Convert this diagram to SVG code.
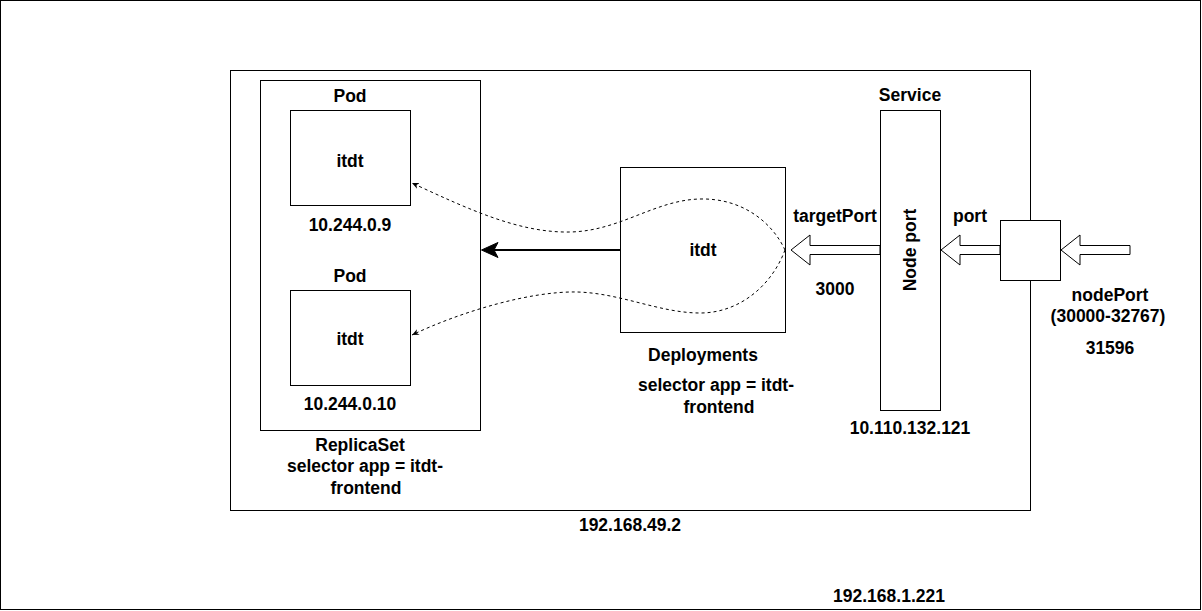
<svg xmlns="http://www.w3.org/2000/svg" width="1202" height="611" viewBox="0 0 1202 611">
<style>
  text { font-family: "Liberation Sans", Arial, Helvetica, sans-serif; font-weight: bold; font-size: 17.5px; fill: #000; text-anchor: middle; }
  .box { fill: #fff; stroke: #000; stroke-width: 1; }
  .frame { fill: none; stroke: #000; stroke-width: 1; }
  .dash { fill: none; stroke: #000; stroke-width: 1; stroke-dasharray: 3 3; }
  .block { fill: #fff; stroke: #000; stroke-width: 1; }
</style>
<defs>
  <marker id="sm" viewBox="0 0 10 10" refX="10" refY="5" markerWidth="7" markerHeight="7" orient="auto" markerUnits="userSpaceOnUse">
    <path d="M0,0.5 L10,5 L0,9.5 L3,5 Z" fill="#000"/>
  </marker>
</defs>
<rect width="1202" height="611" fill="#fff"/>

<g id="host">
  <rect class="frame" x="0.5" y="0.5" width="1200" height="609"/>
  <text x="889" y="602">192.168.1.221</text>
</g>

<g id="cluster">
  <rect class="frame" x="230.5" y="70.5" width="800" height="440"/>
  <text x="630" y="531">192.168.49.2</text>
</g>

<g id="replicaset">
  <rect class="box" x="260.5" y="80.5" width="220" height="350"/>
  <text x="360" y="451">ReplicaSet</text>
  <text x="365" y="472">selector app = itdt-</text>
  <text x="366" y="494">frontend</text>
</g>

<g id="pod1">
  <text x="350" y="102">Pod</text>
  <rect class="box" x="290.5" y="110.5" width="120" height="95"/>
  <text x="350" y="166.5">itdt</text>
  <text x="350" y="231">10.244.0.9</text>
</g>

<g id="pod2">
  <text x="350" y="282">Pod</text>
  <rect class="box" x="290.5" y="290.5" width="120" height="95"/>
  <text x="350" y="344.5">itdt</text>
  <text x="350" y="410">10.244.0.10</text>
</g>

<g id="deployments">
  <rect class="box" x="620.5" y="167.5" width="165" height="165"/>
  <text x="703" y="256">itdt</text>
  <text x="703" y="361">Deployments</text>
  <text x="716" y="391">selector app = itdt-</text>
  <text x="719" y="412.5">frontend</text>
</g>

<g id="service">
  <text x="910" y="101">Service</text>
  <rect class="box" x="880.5" y="110.5" width="60" height="300"/>
  <text transform="translate(916,250) rotate(-90)" x="0" y="0">Node port</text>
  <text x="910" y="434">10.110.132.121</text>
</g>

<g id="nodeport">
  <rect class="box" x="1000.5" y="220.5" width="60" height="60"/>
  <text x="1110" y="301">nodePort</text>
  <text x="1108" y="322">(30000-32767)</text>
  <text x="1110" y="354">31596</text>
</g>

<g id="connectors">
  <path class="dash" d="M785,250 C772,222 742,198 700,199 C655,200 620,231 570,232 C520,233 470,210 412,183" marker-end="url(#sm)"/>
  <path class="dash" d="M785,250 C772,285 740,313 700,313 C660,313 620,293 577,292 C530,291 460,312 412,335" marker-end="url(#sm)"/>
  <line x1="620" y1="250" x2="492" y2="250" stroke="#000" stroke-width="2"/>
  <path d="M481.5,250 L498,242.5 L494,250 L498,257.5 Z" fill="#000" stroke="#000" stroke-width="1"/>
  <polygon class="block" points="880,245.5 810,245.5 810,235 791,250 810,265 810,254.5 880,254.5"/>
  <polygon class="block" points="1000,245.5 960,245.5 960,235 941,250 960,265 960,254.5 1000,254.5"/>
  <polygon class="block" points="1130,245.5 1080,245.5 1080,235 1061,250 1080,265 1080,254.5 1130,254.5"/>
  <text x="835" y="222">targetPort</text>
  <text x="835" y="295">3000</text>
  <text x="970" y="222">port</text>
</g>
</svg>
